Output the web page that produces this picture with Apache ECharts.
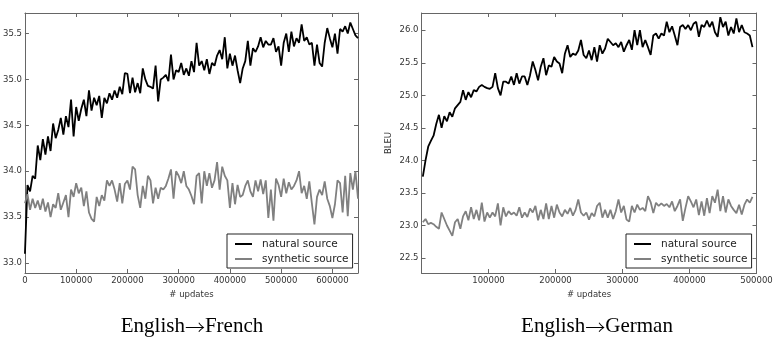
<!DOCTYPE html>
<html>
<head>
<meta charset="utf-8">
<script src="https://cdn.jsdelivr.net/npm/echarts@6/dist/echarts.min.js"></script>
<style>
html, body { margin: 0; padding: 0; background: #fff; }
#chart { width: 777px; height: 340px; }
</style>
</head>
<body>
<div id="chart"></div>
<script>
// English->French, one value every 5000 updates
var frStart = 0, frStep = 5000;
var frNatural = [
    33.10, 33.85, 33.78, 33.95, 33.92, 34.28, 34.12, 34.35, 34.18, 34.38,
    34.22, 34.52, 34.36, 34.45, 34.58, 34.40, 34.60, 34.48, 34.78, 34.38,
    34.70, 34.55, 34.68, 34.78, 34.60, 34.88, 34.66, 34.80, 34.72, 34.82,
    34.58, 34.80, 34.74, 34.85, 34.78, 34.88, 34.80, 34.92, 34.84, 35.07,
    35.06, 34.85, 35.02, 34.86, 34.96, 34.85, 35.12, 35.00, 34.93, 34.92,
    34.90, 35.15, 34.76, 35.00, 35.02, 35.05, 34.98, 35.27, 35.00, 35.10,
    35.08, 35.18, 35.05, 35.12, 35.04, 35.20, 35.08, 35.40, 35.15, 35.20,
    35.10, 35.22, 35.06, 35.18, 35.15, 35.26, 35.32, 35.22, 35.46, 35.12,
    35.28, 35.15, 35.26, 35.10, 34.96, 35.12, 35.20, 35.42, 35.15, 35.34,
    35.30, 35.36, 35.46, 35.35, 35.42, 35.38, 35.38, 35.45, 35.30, 35.36,
    35.15, 35.40, 35.50, 35.30, 35.52, 35.36, 35.45, 35.40, 35.60, 35.42,
    35.46, 35.38, 35.40, 35.15, 35.38, 35.18, 35.14, 35.40, 35.56, 35.45,
    35.35, 35.50, 35.28, 35.55, 35.52, 35.58, 35.50, 35.62, 35.55, 35.48,
    35.45
];
var frSynthetic = [
    33.65, 33.75, 33.58, 33.70, 33.60, 33.68, 33.58, 33.70, 33.56, 33.66,
    33.50, 33.64, 33.60, 33.76, 33.58, 33.66, 33.74, 33.50, 33.80, 33.72,
    33.87, 33.76, 33.82, 33.62, 33.78, 33.55, 33.48, 33.45, 33.72, 33.62,
    33.74, 33.68, 33.90, 33.84, 33.90, 33.80, 33.67, 33.87, 33.65, 33.86,
    33.90, 33.80, 34.05, 34.02, 33.74, 33.60, 33.84, 33.70, 33.95, 33.90,
    33.65, 33.82, 33.70, 33.82, 33.80, 33.84, 33.92, 34.02, 33.70, 34.00,
    33.95, 33.87, 34.00, 33.84, 33.80, 33.73, 33.64, 33.95, 33.98, 33.65,
    34.00, 33.84, 33.98, 33.82, 33.90, 34.10, 33.80, 34.05, 33.95, 33.90,
    33.60, 33.87, 33.64, 33.85, 33.72, 33.74, 33.84, 33.90, 33.78, 33.72,
    33.90, 33.78, 33.91, 33.75, 33.90, 33.49, 33.80, 33.46, 33.92, 33.85,
    33.72, 33.92, 33.76, 33.88, 33.80, 33.84, 33.90, 34.00, 33.76, 33.84,
    33.70, 33.89, 33.65, 33.42, 33.72, 33.80, 33.74, 33.89, 33.70, 33.62,
    33.49, 33.64, 33.90, 33.87, 33.55, 33.95, 33.51, 33.98, 33.80, 34.00,
    33.70
];

// English->German, one value every 4000 updates
var deStart = 2000, deStep = 4000;
var deNatural = [
    23.75, 24.00, 24.21, 24.30, 24.38, 24.56, 24.70, 24.50, 24.68, 24.60,
    24.74, 24.67, 24.80, 24.85, 24.90, 25.08, 24.93, 25.05, 24.97, 25.08,
    25.06, 25.13, 25.16, 25.13, 25.11, 25.10, 25.13, 25.34, 25.11, 25.00,
    25.21, 25.21, 25.18, 25.29, 25.16, 25.34, 25.18, 25.29, 25.29, 25.16,
    25.31, 25.52, 25.39, 25.23, 25.44, 25.57, 25.31, 25.46, 25.44, 25.59,
    25.52, 25.49, 25.34, 25.64, 25.77, 25.59, 25.64, 25.62, 25.69, 25.85,
    25.62, 25.57, 25.69, 25.54, 25.74, 25.52, 25.77, 25.64, 25.72, 25.87,
    25.82, 25.77, 25.80, 25.74, 25.82, 25.67, 25.77, 25.85, 25.70, 26.00,
    25.77, 26.00, 25.74, 25.85, 25.74, 25.62, 25.92, 25.95, 25.87, 25.95,
    25.92, 26.13, 25.97, 26.06, 25.92, 25.77, 26.05, 26.08, 26.02, 26.08,
    26.00, 26.10, 26.13, 25.90, 26.08, 26.05, 26.15, 26.05, 26.13, 25.97,
    25.90, 26.20, 26.05, 26.13, 25.92, 26.05, 25.95, 26.18, 25.97, 26.08,
    25.97, 25.95, 25.92, 25.74
];
var deSynthetic = [
    23.05, 23.10, 23.02, 23.04, 23.02, 22.98, 22.95, 23.20, 23.10, 23.00,
    22.92, 22.84, 23.05, 23.10, 22.95, 23.14, 23.22, 23.08, 23.28, 23.10,
    23.24, 23.08, 23.35, 23.06, 23.20, 23.12, 23.20, 23.14, 23.34, 23.00,
    23.28, 23.14, 23.22, 23.17, 23.20, 23.15, 23.28, 23.12, 23.20, 23.13,
    23.26, 23.20, 23.30, 23.08, 23.24, 23.10, 23.34, 23.10, 23.30, 23.12,
    23.32, 23.20, 23.14, 23.24, 23.18, 23.27, 23.15, 23.24, 23.40, 23.20,
    23.15, 23.20, 23.09, 23.19, 23.14, 23.30, 23.35, 23.12, 23.24, 23.12,
    23.24, 23.10, 23.22, 23.40, 23.20, 23.30, 23.09, 23.06, 23.30, 23.20,
    23.32, 23.24, 23.27, 23.22, 23.45, 23.36, 23.19, 23.35, 23.30, 23.34,
    23.30, 23.33, 23.28, 23.37, 23.22, 23.30, 23.40, 23.07, 23.27, 23.45,
    23.37, 23.28, 23.40, 23.16, 23.37, 23.15, 23.42, 23.19, 23.45, 23.35,
    23.55, 23.22, 23.45, 23.20, 23.40, 23.30, 23.24, 23.19, 23.32, 23.17,
    23.32, 23.40, 23.35, 23.44
];

var seriesNames = ['natural source', 'synthetic source'];
var captionLeft = ['English', 'French'];
var captionRight = ['English', 'German'];

var axisColor = '#666';
var tickFont = { fontFamily: 'DejaVu Sans', fontSize: 8.5, color: '#333' };

function toPairs(start, step, values) {
    var out = [];
    for (var i = 0; i < values.length; i++) {
        out.push([start + i * step, values[i]]);
    }
    return out;
}

function xAxisFor(grid, max, top) {
    return {
        gridIndex: grid,
        type: 'value',
        position: top ? 'top' : 'bottom',
        min: 0,
        max: max,
        interval: 100000,
        axisLine: { show: true, onZero: false, lineStyle: { color: axisColor, width: 1 } },
        axisTick: { show: true, inside: true, length: 4, lineStyle: { color: axisColor } },
        axisLabel: {
            show: !top, margin: 3, showMinLabel: grid == 0, showMaxLabel: grid == 1,
            formatter: function (v) { return String(Math.round(v)); },
            fontFamily: tickFont.fontFamily, fontSize: tickFont.fontSize, color: tickFont.color
        },
        splitLine: { show: false },
        name: top ? '' : '# updates',
        nameLocation: 'middle',
        nameGap: 16,
        nameTextStyle: { fontFamily: tickFont.fontFamily, fontSize: 8.5, color: '#333' }
    };
}

function yAxisFor(grid, min, max, right, name) {
    return {
        gridIndex: grid,
        type: 'value',
        position: right ? 'right' : 'left',
        min: min,
        max: max,
        splitNumber: grid == 0 ? 6 : 8,
        axisLine: { show: true, onZero: false, lineStyle: { color: axisColor, width: 1 } },
        axisTick: { show: true, inside: true, length: 4, lineStyle: { color: axisColor } },
        axisLabel: {
            show: !right, margin: 3, showMinLabel: false, showMaxLabel: false,
            formatter: function (v) { return v.toFixed(1); },
            fontFamily: tickFont.fontFamily, fontSize: tickFont.fontSize, color: tickFont.color
        },
        splitLine: { show: false },
        name: name || '',
        nameLocation: 'middle',
        nameRotate: 90,
        nameGap: 28,
        nameTextStyle: { fontFamily: tickFont.fontFamily, fontSize: 8.5, color: '#333' }
    };
}

function lineSeries(name, xi, data, color) {
    return {
        name: name,
        type: 'line',
        xAxisIndex: xi,
        yAxisIndex: xi * 2,
        data: data,
        symbol: 'none',
        showSymbol: false,
        lineStyle: { color: color, width: 1.8 },
        itemStyle: { color: color },
        animation: false
    };
}

function legendAt(left) {
    return {
        orient: 'vertical',
        left: left,
        top: 234,
        data: seriesNames,
        icon: 'rect',
        itemWidth: 17,
        itemHeight: 2,
        itemGap: 3,
        padding: [4, 4, 3, 8],
        backgroundColor: '#fff',
        borderColor: '#222',
        borderWidth: 1,
        borderRadius: 0,
        selectedMode: false,
        textStyle: {
            fontFamily: 'DejaVu Sans', fontSize: 10.5, color: '#222',
            lineHeight: 12, padding: [0, 0, 0, 5]
        }
    };
}

// 图下标题: 文字用衬线体, 箭头用细体
function captionAt(x, parts) {
    return {
        type: 'text', x: x, y: 326,
        style: {
            text: '{w|' + parts[0] + '}{a|\u2192}{w|' + parts[1] + '}',
            textAlign: 'center', textVerticalAlign: 'middle', fill: '#000',
            rich: {
                w: { fontFamily: 'Liberation Serif', fontSize: 21, fill: '#000' },
                a: { fontFamily: 'Noto Sans CJK SC', fontWeight: 300, fontSize: 20, fill: '#000', padding: [2, 0, 0, 0] }
            }
        }
    };
}

var myChart = echarts.init(document.getElementById('chart'), null, { renderer: 'canvas' });
myChart.setOption({
    animation: false,
    backgroundColor: '#fff',
    grid: [
        { left: 23, top: 13, width: 335, height: 260 },
        { left: 421.5, top: 13, width: 335, height: 260 }
    ],
    xAxis: [
        xAxisFor(0, 650000, false),
        xAxisFor(1, 500000, false),
        xAxisFor(0, 650000, true),
        xAxisFor(1, 500000, true)
    ],
    yAxis: [
        yAxisFor(0, 32.891, 35.724, false),
        yAxisFor(0, 32.891, 35.724, true),
        yAxisFor(1, 22.27, 26.265, false, 'BLEU'),
        yAxisFor(1, 22.27, 26.265, true)
    ],
    legend: [legendAt(227), legendAt(626)],
    graphic: [captionAt(192, captionLeft), captionAt(597, captionRight)],
    series: [
        lineSeries(seriesNames[0], 0, toPairs(frStart, frStep, frNatural), '#000'),
        lineSeries(seriesNames[1], 0, toPairs(frStart, frStep, frSynthetic), '#808080'),
        lineSeries(seriesNames[0], 1, toPairs(deStart, deStep, deNatural), '#000'),
        lineSeries(seriesNames[1], 1, toPairs(deStart, deStep, deSynthetic), '#808080')
    ]
});
</script>
</body>
</html>
